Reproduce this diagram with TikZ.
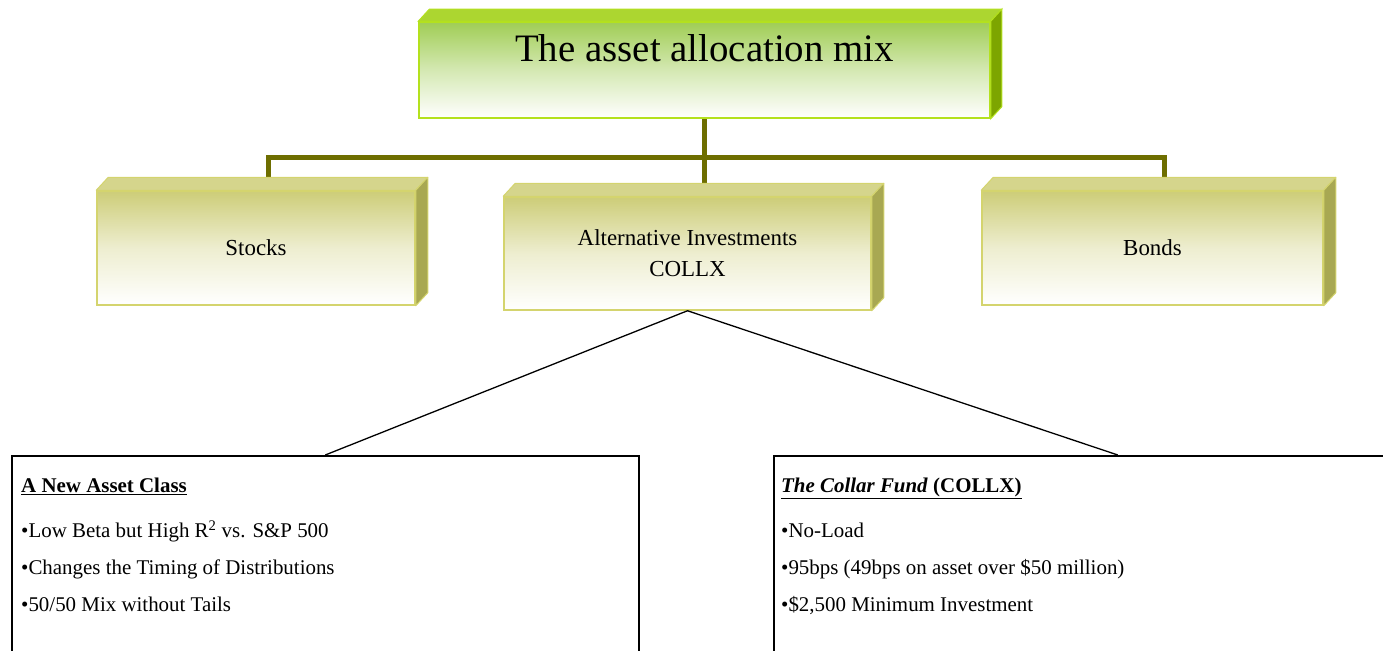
\documentclass[tikz,border=0pt]{standalone}
\usepackage{fontspec}
\setmainfont{Liberation Serif}
\usetikzlibrary{calc,backgrounds,positioning}

\definecolor{mixtop}{RGB}{172,214,48}
\definecolor{mixside}{RGB}{125,165,0}
\definecolor{mixedge}{RGB}{180,225,30}
\definecolor{mixshade}{RGB}{160,205,85}
\definecolor{slabtop}{RGB}{213,213,140}
\definecolor{slabside}{RGB}{168,168,82}
\definecolor{slabedge}{RGB}{212,212,110}
\definecolor{slabshade}{RGB}{205,205,120}
\definecolor{busline}{RGB}{110,110,0}

% top face and right side of a slab node
\newcommand{\slabfaces}[4]{
  \filldraw[#2,draw=#4,line width=1bp,line join=round] (#1.north west) -- ++(12,-13) -- ($(#1.north east)+(12,-13)$) -- (#1.north east) -- cycle;
  \filldraw[#3,draw=#4,line width=1bp,line join=round] (#1.north east) -- ++(12,-13) -- ($(#1.south east)+(12,-13)$) -- (#1.south east) -- cycle;
}

\tikzset{
  mixbox/.style={draw=mixedge,line width=1.5bp,top color=mixshade,bottom color=white,middle color=mixshade!45!white,inner sep=0pt},
  slab/.style={draw=slabedge,line width=1.5bp,top color=slabshade,bottom color=white,middle color=slabshade!35!white,inner sep=0pt,align=center,font=\fontsize{23}{31}\selectfont},
  infobox/.style={draw=black,line width=1.5bp,fill=white,inner sep=0pt},
  infotext/.style={inner sep=0pt,align=left,anchor=north west,font=\fontsize{21}{37}\selectfont},
  bus/.style={draw=busline,line width=5bp},
  branch/.style={draw=black,line width=1.3bp}
}

\begin{document}
\begin{tikzpicture}[x=1bp,y=-1bp]
    \useasboundingbox (0,0) rectangle (1383,651);
    \clip (0,0) rectangle (1383,651);

    % top of the tree
    \node[mixbox,minimum width=571bp,minimum height=96bp] (mix) at (704.5,70) {};
    \node[font=\fontsize{39}{44}\selectfont,inner sep=0pt] (mixtitle) at (704.5,48) {The asset allocation mix};

    % the three classes
    \node[slab,minimum width=318bp,minimum height=114bp] (stocks) at (256,248) {Stocks};
    \node[slab,minimum width=367bp,minimum height=113bp] (altinv) at (687.5,253.5) {Alternative Investments\\COLLX};
    \node[slab,minimum width=341bp,minimum height=114bp] (bonds) at (1152.5,248) {Bonds};

    \slabfaces{stocks}{slabtop}{slabside}{slabedge}
    \slabfaces{altinv}{slabtop}{slabside}{slabedge}
    \slabfaces{bonds}{slabtop}{slabside}{slabedge}
    \filldraw[mixtop,draw=mixedge,line width=1bp] (mix.north west) -- ++(11,-12) -- ($(mix.north east)+(11,-12)$) -- (mix.north east) -- cycle;
    \filldraw[mixside,draw=mixedge,line width=1bp] (mix.north east) -- ++(11,-12) -- ($(mix.south east)+(11,-12)$) -- (mix.south east) -- cycle;

    % notes below
    \node[infobox,minimum width=627bp,minimum height=260bp,anchor=north west] (newclass) at (11,455) {};
    \node[infobox,minimum width=688bp,minimum height=260bp,anchor=north west] (fund) at (773,455) {};

    \node[infotext] (newclasstext) at ([shift={(10,23)}]newclass.north west) {%
      \underline{\textbf{A New Asset Class}}\\[8bp]
      •Low Beta but High R\textsuperscript{2} vs. S\&P 500\\
      •Changes the Timing of Distributions\\
      •50/50 Mix without Tails};
    \node[infotext] (fundtext) at ([shift={(8,23)}]fund.north west) {%
      \underline{\textbf{\textit{The Collar Fund}} \textbf{(COLLX)}}\\[8bp]
      •No-Load\\
      •95bps (49bps on asset over \$50 million)\\
      •\$2,500 Minimum Investment};

    \begin{scope}[on background layer]
      \coordinate (hub) at ($(mix.south)+(0,39)$);
      \draw[bus] (mix.south) -- (hub);
      \draw[bus] ([xshift=12bp]stocks.north) |- (hub) -| ([xshift=12bp]bonds.north);
      \draw[bus] (hub) -- (hub |- altinv.north);
    \end{scope}

    \draw[branch] (newclass.north) -- (altinv.south) -- (fund.north);
\end{tikzpicture}
\end{document}
